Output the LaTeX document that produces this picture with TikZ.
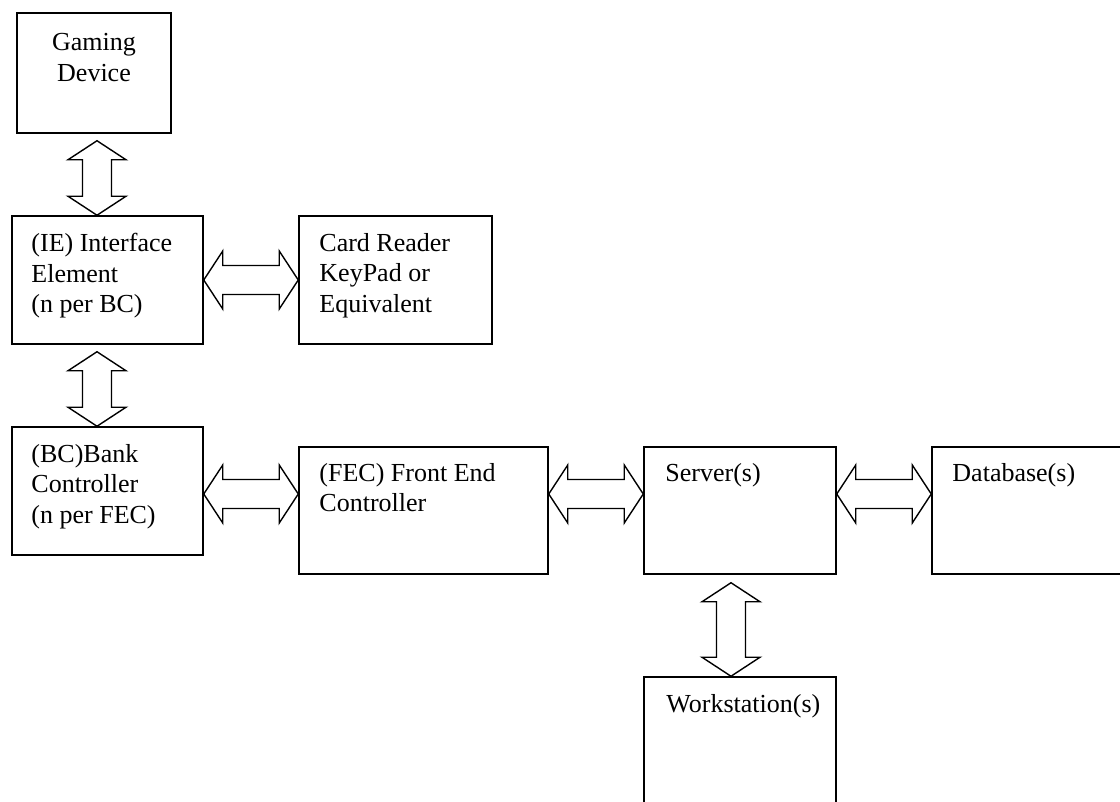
\documentclass[tikz,border=0pt]{standalone}
\usepackage{fontspec}
\setmainfont{Liberation Serif}
\usetikzlibrary{calc}

\newcommand{\linkarrow}[2]{%
  \draw[fatarrow] (#1)
    -- ($(#1)!19pt!(#2)!29pt!90:(#2)$)
    -- ($(#1)!19pt!(#2)!14.5pt!90:(#2)$)
    -- ($(#2)!19pt!(#1)!14.5pt!-90:(#1)$)
    -- ($(#2)!19pt!(#1)!29pt!-90:(#1)$)
    -- (#2)
    -- ($(#2)!19pt!(#1)!29pt!90:(#1)$)
    -- ($(#2)!19pt!(#1)!14.5pt!90:(#1)$)
    -- ($(#1)!19pt!(#2)!14.5pt!-90:(#2)$)
    -- ($(#1)!19pt!(#2)!29pt!-90:(#2)$)
    -- cycle;}

\begin{document}
\begin{tikzpicture}[x=1pt, y=-1pt,
  box/.style={draw, line width=1.5pt, inner sep=0pt, rectangle},
  lbl/.style={align=left, inner sep=0pt, anchor=north west,
              font=\fontsize{26}{30.5}\selectfont},
  fatarrow/.style={draw, line width=1.4pt, line join=miter}]

\useasboundingbox (0,0) rectangle (1120,802);

% boxes
\node[box, minimum width=154, minimum height=120] (gd) at (94,73) {};
\node[box, minimum width=191, minimum height=128] (ie) at (107.5,280) {};
\node[box, minimum width=193, minimum height=128] (cr) at (395.5,280) {};
\node[box, minimum width=191, minimum height=128] (bc) at (107.5,491) {};
\node[box, minimum width=249, minimum height=127] (fec) at (423.5,510.5) {};
\node[box, minimum width=192, minimum height=127] (srv) at (740,510.5) {};
\node[box, minimum width=220, minimum height=127] (db) at (1042,510.5) {};
\node[box, minimum width=192, minimum height=150] (ws) at (740,752) {};

% texts
\node[lbl, anchor=north, align=center] (gd-t) at ([yshift=-21pt]gd.north) {Gaming\\Device};
\node[lbl] (ie-t) at ([shift={(20,18)}]ie.north west) {(IE) Interface\\Element\\(n per BC)};
\node[lbl] (cr-t) at ([shift={(21,18)}]cr.north west) {Card Reader\\KeyPad or\\Equivalent};
\node[lbl] (bc-t) at ([shift={(20,18)}]bc.north west) {(BC)Bank\\Controller\\(n per FEC)};
\node[lbl] (fec-t) at ([shift={(21,17)}]fec.north west) {(FEC) Front End\\Controller};
\node[lbl] (srv-t) at ([shift={(22,17)}]srv.north west) {Server(s)};
\node[lbl] (db-t) at ([shift={(21,17)}]db.north west) {Database(s)};
\node[lbl] (ws-t) at ([shift={(23,18)}]ws.north west) {Workstation(s)};

% arrows
\coordinate (colg) at (97,0);
\coordinate (colw) at (731,0);
\coordinate (row) at (0,494);
\coordinate (gd-end) at ($(colg |- gd.south)+(0,7)$);
\coordinate (ie-end) at ($(colg |- ie.south)+(0,7)$);
\coordinate (srv-end) at ($(colw |- srv.south)+(0,8)$);

\linkarrow{gd-end}{colg |- ie.north}
\linkarrow{ie-end}{colg |- bc.north}
\linkarrow{ie.east}{cr.west}
\linkarrow{bc.east |- row}{fec.west |- row}
\linkarrow{fec.east |- row}{srv.west |- row}
\linkarrow{srv.east |- row}{db.west |- row}
\linkarrow{srv-end}{colw |- ws.north}
\end{tikzpicture}
\end{document}
